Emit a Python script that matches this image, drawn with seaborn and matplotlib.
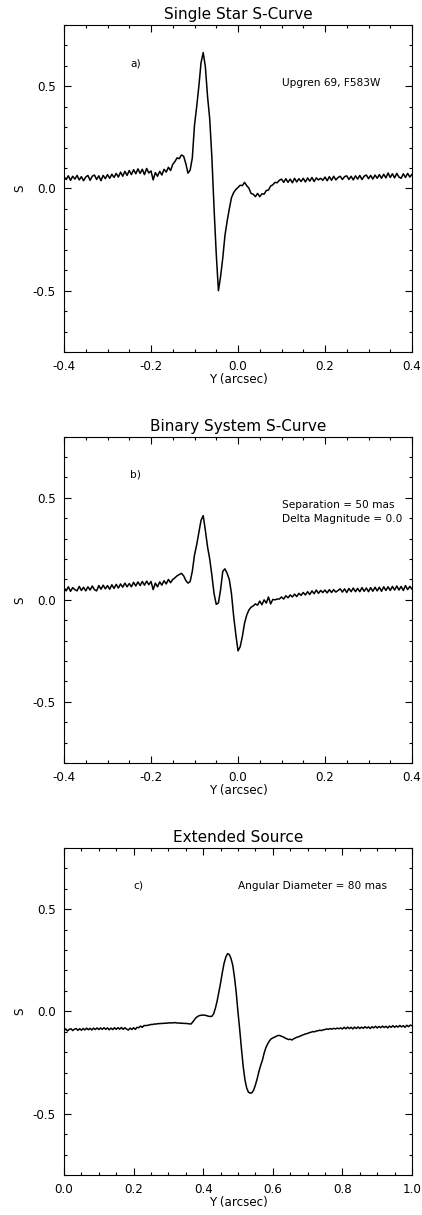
import numpy as np
import pandas as pd
import matplotlib
matplotlib.use("Agg")
import matplotlib.pyplot as plt
from matplotlib.ticker import MultipleLocator, FormatStrFormatter
import seaborn as sns

# ---------------- data ----------------
x_ab = np.linspace(-0.4, 0.4, 161)   # sample grid of panels a) and b)
x_c = np.linspace(0.0, 1.0, 201)     # sample grid of panel c)

s_single = [
    0.058, 0.044, 0.062, 0.040, 0.060, 0.046, 0.064, 0.042, 0.058, 0.038,
    0.056, 0.064, 0.040, 0.060, 0.066, 0.044, 0.062, 0.038, 0.064, 0.048,
    0.068, 0.050, 0.070, 0.054, 0.074, 0.056, 0.080, 0.060, 0.084, 0.064,
    0.088, 0.068, 0.092, 0.072, 0.096, 0.074, 0.094, 0.068, 0.098, 0.076,
    0.086, 0.042, 0.078, 0.060, 0.084, 0.066, 0.094, 0.080, 0.104, 0.088,
    0.118, 0.132, 0.150, 0.146, 0.164, 0.158, 0.122, 0.075, 0.090, 0.150,
    0.310, 0.400, 0.500, 0.615, 0.665, 0.595, 0.450, 0.340, 0.150, -0.100,
    -0.320, -0.500, -0.430, -0.340, -0.230, -0.160, -0.100, -0.045, -0.020, -0.005,
    0.005, 0.016, 0.014, 0.030, 0.014, 0.002, -0.024, -0.028, -0.040, -0.024,
    -0.040, -0.026, -0.028, -0.010, -0.008, 0.012, 0.018, 0.030, 0.028, 0.040,
    0.046, 0.030, 0.048, 0.030, 0.046, 0.028, 0.050, 0.032, 0.048, 0.034,
    0.050, 0.032, 0.052, 0.036, 0.054, 0.034, 0.052, 0.042, 0.050, 0.040,
    0.056, 0.038, 0.058, 0.040, 0.060, 0.042, 0.054, 0.060, 0.044, 0.058,
    0.062, 0.044, 0.060, 0.042, 0.062, 0.046, 0.064, 0.044, 0.060, 0.066,
    0.048, 0.064, 0.046, 0.066, 0.050, 0.068, 0.050, 0.070, 0.052, 0.076,
    0.054, 0.072, 0.052, 0.074, 0.056, 0.050, 0.072, 0.054, 0.074, 0.056,
    0.070,
]

s_binary = [
    0.060, 0.044, 0.064, 0.042, 0.060, 0.050, 0.044, 0.066, 0.046, 0.062,
    0.044, 0.064, 0.048, 0.068, 0.050, 0.044, 0.070, 0.052, 0.072, 0.054,
    0.070, 0.052, 0.074, 0.056, 0.076, 0.058, 0.078, 0.062, 0.082, 0.064,
    0.080, 0.064, 0.086, 0.068, 0.088, 0.070, 0.090, 0.072, 0.092, 0.074,
    0.090, 0.050, 0.082, 0.064, 0.088, 0.072, 0.094, 0.078, 0.100, 0.084,
    0.100, 0.108, 0.118, 0.124, 0.130, 0.118, 0.095, 0.082, 0.090, 0.140,
    0.220, 0.270, 0.330, 0.390, 0.413, 0.340, 0.260, 0.200, 0.120, 0.030,
    -0.022, -0.015, 0.050, 0.140, 0.152, 0.130, 0.100, 0.030, -0.080, -0.170,
    -0.250, -0.230, -0.180, -0.115, -0.075, -0.050, -0.036, -0.030, -0.020, -0.026,
    -0.006, -0.024, 0.000, -0.016, 0.014, -0.020, 0.002, 0.000, 0.004, 0.004,
    0.014, 0.004, 0.020, 0.010, 0.024, 0.014, 0.028, 0.016, 0.032, 0.022,
    0.036, 0.024, 0.040, 0.026, 0.044, 0.030, 0.048, 0.032, 0.046, 0.036,
    0.048, 0.034, 0.050, 0.036, 0.050, 0.038, 0.046, 0.054, 0.038, 0.054,
    0.036, 0.056, 0.040, 0.058, 0.040, 0.056, 0.040, 0.060, 0.042, 0.058,
    0.040, 0.060, 0.042, 0.062, 0.044, 0.062, 0.042, 0.064, 0.046, 0.064,
    0.046, 0.066, 0.048, 0.068, 0.048, 0.066, 0.046, 0.070, 0.050, 0.066,
    0.052,
]

s_extended = [
    -0.094, -0.086, -0.096, -0.088, -0.085, -0.094, -0.087, -0.084, -0.093, -0.085,
    -0.092, -0.084, -0.091, -0.082, -0.090, -0.083, -0.091, -0.082, -0.089, -0.081,
    -0.089, -0.081, -0.088, -0.080, -0.088, -0.081, -0.090, -0.082, -0.089, -0.080,
    -0.088, -0.080, -0.087, -0.079, -0.088, -0.080, -0.087, -0.091, -0.082, -0.089,
    -0.080, -0.088, -0.078, -0.080, -0.072, -0.078, -0.069, -0.070, -0.068, -0.067,
    -0.064, -0.064, -0.062, -0.062, -0.060, -0.060, -0.059, -0.059, -0.058, -0.058,
    -0.056, -0.057, -0.056, -0.056, -0.055, -0.057, -0.057, -0.058, -0.058, -0.059,
    -0.059, -0.060, -0.061, -0.062, -0.052, -0.040, -0.030, -0.024, -0.020, -0.019,
    -0.018, -0.019, -0.021, -0.024, -0.025, -0.024, -0.012, 0.015, 0.050, 0.095,
    0.139, 0.190, 0.235, 0.265, 0.282, 0.278, 0.258, 0.225, 0.165, 0.090,
    -0.005, -0.090, -0.185, -0.270, -0.335, -0.375, -0.395, -0.400, -0.398, -0.385,
    -0.360, -0.330, -0.295, -0.265, -0.240, -0.205, -0.178, -0.160, -0.145, -0.135,
    -0.130, -0.126, -0.122, -0.118, -0.118, -0.122, -0.125, -0.130, -0.134, -0.138,
    -0.136, -0.140, -0.134, -0.130, -0.126, -0.124, -0.120, -0.116, -0.113, -0.110,
    -0.108, -0.104, -0.102, -0.099, -0.100, -0.096, -0.095, -0.092, -0.094, -0.090,
    -0.089, -0.086, -0.088, -0.084, -0.087, -0.083, -0.086, -0.082, -0.085, -0.081,
    -0.086, -0.078, -0.085, -0.077, -0.084, -0.078, -0.086, -0.077, -0.084, -0.076,
    -0.084, -0.077, -0.083, -0.075, -0.082, -0.076, -0.084, -0.075, -0.081, -0.073,
    -0.081, -0.074, -0.080, -0.072, -0.079, -0.073, -0.081, -0.072, -0.078, -0.070,
    -0.078, -0.071, -0.077, -0.069, -0.076, -0.070, -0.078, -0.068, -0.075, -0.067,
    -0.071,
]

titles = ["Single Star S-Curve", "Binary System S-Curve", "Extended Source"]
panel_tags = ["a)", "b)", "c)"]
notes = [["Upgren 69, F583W"],
         ["Separation = 50 mas", "Delta Magnitude = 0.0"],
         ["Angular Diameter = 80 mas"]]
x_label = "Y (arcsec)"
y_label = "S"

# ---------------- figure ----------------
sns.set_theme(style="white")
plt.rcParams["font.family"] = ["DejaVu Sans"]

fig = plt.figure(figsize=(4.22, 12.15), dpi=100)
W, H = 422.0, 1215.0
boxes = [(25.0, 352.0), (436.7, 763.0), (847.7, 1175.0)]
left, right = 64.0, 412.0

series = [(x_ab, s_single), (x_ab, s_binary), (x_c, s_extended)]
xlims = [(-0.4, 0.4), (-0.4, 0.4), (0.0, 1.0)]
tag_pos = [(-0.248, 0.614), (-0.248, 0.614), (0.20, 0.614)]
note_pos = [(0.101, 0.515), (0.101, 0.466), (0.499, 0.614)]
note_gap = 0.069

for i, ((top, bot), (xs, ys)) in enumerate(zip(boxes, series)):
    ax = fig.add_axes([left / W, 1 - bot / H, (right - left) / W, (bot - top) / H])
    df = pd.DataFrame({"Y": xs, "S": ys})
    sns.lineplot(data=df, x="Y", y="S", ax=ax, color="black", linewidth=1.1,
                 estimator=None, sort=False)
    ax.set_xlim(*xlims[i])
    ax.set_ylim(-0.8, 0.8)
    ax.xaxis.set_major_locator(MultipleLocator(0.2))
    ax.xaxis.set_minor_locator(MultipleLocator(0.05))
    ax.yaxis.set_major_locator(MultipleLocator(0.5))
    ax.yaxis.set_minor_locator(MultipleLocator(0.1))
    ax.xaxis.set_major_formatter(FormatStrFormatter("%.1f"))
    ax.yaxis.set_major_formatter(FormatStrFormatter("%.1f"))
    ax.tick_params(which="both", direction="in", top=True, right=True,
                   bottom=True, left=True, color="black", width=0.8)
    ax.tick_params(which="major", length=5.0, labelsize=8.6, pad=6,
                   labelcolor="black")
    ax.tick_params(which="minor", length=2.5)
    for sp in ax.spines.values():
        sp.set_color("black")
        sp.set_linewidth(0.8)
    ax.set_xlabel(x_label, fontsize=8.6, color="black")
    ax.set_ylabel(y_label, fontsize=8.6, color="black")
    ax.xaxis.set_label_coords(0.5, -0.064)
    ax.yaxis.set_label_coords(-0.108, 0.5)
    ax.set_title(titles[i], fontsize=11, pad=4.0, color="black")
    ax.text(tag_pos[i][0], tag_pos[i][1], panel_tags[i], fontsize=7.6,
            ha="left", va="center", color="black")
    for k, line in enumerate(notes[i]):
        ax.text(note_pos[i][0], note_pos[i][1] - k * note_gap, line, fontsize=7.6,
                ha="left", va="center", color="black")

fig.savefig("out.png", dpi=100, facecolor="white")
